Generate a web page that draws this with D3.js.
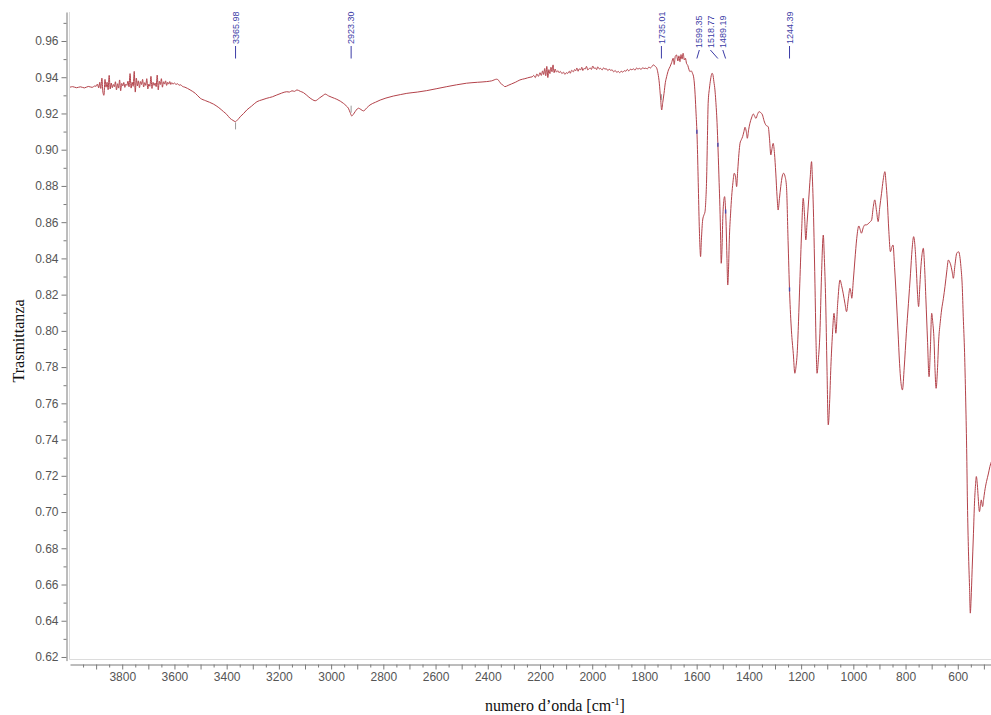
<!DOCTYPE html>
<html>
<head>
<meta charset="utf-8">
<script src="https://cdn.jsdelivr.net/npm/d3@7"></script>
<style>
  html, body { margin: 0; padding: 0; background: #fff; }
  svg { display: block; }
</style>
</head>
<body>
<svg id="chart" width="991" height="715"></svg>
<script>
// FT-IR spectrum: [wavenumber (cm^-1), transmittance]
const spectrum = [
  [4000,0.9345],[3990,0.9348],[3975,0.9342],[3960,0.9347],[3945,0.9341],[3930,0.9349],[3915,0.9344],[3905,0.9352],
  [3900,0.9350],[3895,0.9362],[3890,0.9341],[3886,0.9372],[3882,0.9338],[3878,0.9395],[3874,0.9318],[3870,0.9300],
  [3866,0.9388],[3862,0.9345],[3858,0.9372],[3854,0.9331],[3850,0.9410],[3846,0.9335],[3842,0.9368],[3838,0.9342],
  [3834,0.9360],[3830,0.9348],[3826,0.9375],[3822,0.9330],[3818,0.9364],[3814,0.9340],[3810,0.9385],[3806,0.9325],
  [3802,0.9366],[3798,0.9352],[3794,0.9371],[3790,0.9344],[3786,0.9362],[3782,0.9355],[3778,0.9378],[3774,0.9347],
  [3770,0.9420],[3766,0.9340],[3762,0.9372],[3758,0.9350],[3754,0.9432],[3750,0.9318],[3746,0.9395],[3742,0.9352],
  [3738,0.9380],[3734,0.9342],[3730,0.9376],[3726,0.9360],[3722,0.9388],[3718,0.9346],[3714,0.9370],[3710,0.9355],
  [3706,0.9392],[3702,0.9335],[3698,0.9362],[3694,0.9350],[3690,0.9405],[3686,0.9338],[3682,0.9372],[3678,0.9355],
  [3674,0.9368],[3670,0.9348],[3666,0.9412],[3662,0.9330],[3658,0.9378],[3654,0.9360],[3650,0.9392],[3646,0.9345],
  [3642,0.9375],[3638,0.9362],[3634,0.9380],[3630,0.9355],[3626,0.9372],[3622,0.9362],[3618,0.9376],[3614,0.9360],
  [3610,0.9370],[3606,0.9362],[3600,0.9368],[3594,0.9360],[3588,0.9364],[3582,0.9356],[3576,0.9358],[3570,0.9350],
  [3560,0.9345],[3540,0.9330],[3520,0.9311],[3501,0.9284],[3480,0.9270],[3451,0.9252],[3430,0.9232],[3412,0.9210],
  [3400,0.9195],[3387,0.9173],[3376,0.9162],[3367,0.9155],[3358,0.9165],[3348,0.9182],[3335,0.9200],[3323,0.9219],
  [3305,0.9240],[3284,0.9265],[3265,0.9275],[3246,0.9284],[3225,0.9292],[3208,0.9302],[3190,0.9312],[3170,0.9320],
  [3160,0.9318],[3150,0.9325],[3140,0.9322],[3131,0.9330],[3118,0.9322],[3106,0.9315],[3085,0.9290],[3070,0.9275],
  [3061,0.9270],[3045,0.9285],[3030,0.9300],[3023,0.9307],[3010,0.9297],[2997,0.9289],[2978,0.9278],[2965,0.9268],
  [2953,0.9256],[2942,0.9242],[2934,0.9229],[2927,0.9205],[2921,0.9186],[2915,0.9195],[2908,0.9210],[2900,0.9225],
  [2895,0.9229],[2886,0.9222],[2876,0.9214],[2864,0.9230],[2851,0.9247],[2830,0.9262],[2812,0.9274],[2790,0.9285],
  [2762,0.9296],[2735,0.9304],[2710,0.9311],[2670,0.9318],[2634,0.9326],[2595,0.9337],[2557,0.9348],[2520,0.9358],
  [2481,0.9367],[2440,0.9372],[2404,0.9376],[2385,0.9380],[2366,0.9389],[2358,0.9382],[2353,0.9370],[2343,0.9358],
  [2334,0.9348],[2322,0.9355],[2309,0.9363],[2293,0.9373],[2277,0.9385],[2258,0.9392],[2238,0.9400],
  [2230,0.9402],[2224,0.9410],[2218,0.9398],[2212,0.9418],[2206,0.9405],[2200,0.9425],[2195,0.9410],[2190,0.9435],
  [2186,0.9415],[2182,0.9448],[2178,0.9408],[2174,0.9460],[2170,0.9398],[2166,0.9442],[2162,0.9420],[2158,0.9455],
  [2154,0.9430],[2150,0.9468],[2146,0.9425],[2142,0.9445],[2137,0.9428],[2132,0.9436],[2127,0.9425],[2122,0.9432],
  [2116,0.9420],[2110,0.9428],[2105,0.9416],[2099,0.9425],[2094,0.9421],[2088,0.9433],[2084,0.9422],[2079,0.9438],
  [2072,0.9430],[2068,0.9442],[2063,0.9436],[2059,0.9451],[2054,0.9433],[2050,0.9446],[2044,0.9441],[2040,0.9455],
  [2036,0.9437],[2031,0.9449],[2027,0.9445],[2022,0.9460],[2017,0.9440],[2012,0.9447],[2008,0.9452],[2003,0.9443],
  [1998,0.9462],[1993,0.9448],[1989,0.9453],[1983,0.9442],[1979,0.9457],[1973,0.9446],[1968,0.9449],[1962,0.9440],
  [1957,0.9451],[1951,0.9445],[1946,0.9447],[1940,0.9437],[1935,0.9444],[1929,0.9438],[1924,0.9441],[1918,0.9430],
  [1912,0.9437],[1906,0.9427],[1900,0.9432],[1895,0.9425],[1889,0.9433],[1883,0.9428],[1877,0.9436],[1871,0.9433],
  [1866,0.9443],[1860,0.9435],[1854,0.9444],[1848,0.9441],[1842,0.9446],[1836,0.9439],[1830,0.9451],[1825,0.9445],
  [1819,0.9449],[1813,0.9443],[1807,0.9452],[1801,0.9448],[1795,0.9450],[1789,0.9446],[1783,0.9456],[1777,0.9451],
  [1772,0.9458],[1766,0.9468],[1760,0.9462],[1753,0.9450],
  [1748,0.9420],[1743,0.9367],[1738,0.9280],[1734,0.9219],[1730,0.9260],[1725,0.9311],[1720,0.9370],[1715,0.9403],
  [1708,0.9440],[1702,0.9458],[1696,0.9480],[1690,0.9505],[1686,0.9470],[1682,0.9515],[1677,0.9523],[1672,0.9490],
  [1668,0.9518],[1664,0.9486],[1660,0.9525],[1656,0.9500],[1652,0.9532],[1647,0.9495],[1643,0.9505],[1639,0.9477],
  [1634,0.9465],[1630,0.9445],[1626,0.9431],[1621,0.9435],[1616,0.9422],[1611,0.9395],[1607,0.9330],[1603,0.9220],
  [1598,0.9054],[1594,0.8820],[1590,0.8575],[1587,0.8450],[1585,0.8410],[1582,0.8500],[1577,0.8612],[1572,0.8640],
  [1568,0.8658],[1565,0.8720],[1562,0.8833],[1559,0.9050],[1556,0.9256],[1551,0.9340],[1547,0.9385],[1544,0.9410],
  [1541,0.9422],[1538,0.9415],[1534,0.9375],[1530,0.9330],[1527,0.9274],[1522,0.9150],[1518,0.8998],[1514,0.8820],
  [1511,0.8686],[1508,0.8500],[1506,0.8373],[1503,0.8450],[1500,0.8620],[1496,0.8720],[1493,0.8741],[1490,0.8690],
  [1487,0.8575],[1484,0.8400],[1481,0.8253],[1478,0.8340],[1475,0.8502],[1470,0.8650],[1466,0.8741],[1461,0.8820],
  [1456,0.8870],[1451,0.8850],[1447,0.8796],[1443,0.8880],[1438,0.8980],[1434,0.9035],[1429,0.9055],[1424,0.9072],
  [1419,0.9100],[1415,0.9124],[1410,0.9100],[1406,0.9063],[1401,0.9110],[1396,0.9146],[1390,0.9175],[1383,0.9197],
  [1378,0.9185],[1373,0.9173],[1367,0.9195],[1361,0.9210],[1355,0.9205],[1348,0.9192],[1342,0.9160],[1335,0.9136],
  [1330,0.9130],[1326,0.9127],[1321,0.9060],[1316,0.8971],[1311,0.9010],[1307,0.9035],[1302,0.8980],[1297,0.8871],
  [1292,0.8740],[1288,0.8667],[1283,0.8730],[1278,0.8796],[1272,0.8855],[1267,0.8870],[1262,0.8855],[1256,0.8796],
  [1250,0.8500],[1244,0.8210],[1237,0.8000],[1230,0.7876],[1224,0.7766],[1219,0.7810],[1215,0.7876],[1210,0.8050],
  [1205,0.8263],[1198,0.8550],[1192,0.8732],[1187,0.8640],[1182,0.8502],[1177,0.8600],[1171,0.8723],[1165,0.8850],
  [1160,0.8934],[1157,0.8850],[1154,0.8723],[1147,0.8263],[1143,0.7950],[1139,0.7766],[1134,0.7840],[1128,0.7987],
  [1122,0.8300],[1115,0.8529],[1111,0.8400],[1106,0.8171],[1101,0.7800],[1096,0.7481],[1091,0.7600],[1086,0.7803],
  [1080,0.7980],[1074,0.8097],[1070,0.8040],[1067,0.7987],[1060,0.8150],[1051,0.8281],[1045,0.8250],[1039,0.8208],
  [1032,0.8150],[1026,0.8106],[1019,0.8180],[1013,0.8235],[1009,0.8210],[1006,0.8180],[1000,0.8280],[994,0.8391],
  [987,0.8510],[979,0.8579],[974,0.8560],[969,0.8539],[962,0.8570],[956,0.8585],[950,0.8585],[944,0.8590],
  [937,0.8600],[930,0.8612],[924,0.8680],[918,0.8723],[911,0.8660],[905,0.8603],[899,0.8680],[892,0.8759],
  [886,0.8830],[879,0.8879],[875,0.8820],[870,0.8723],[864,0.8550],[858,0.8437],[853,0.8460],[848,0.8474],
  [842,0.8350],[835,0.8171],[829,0.8000],[823,0.7821],[818,0.7720],[812,0.7674],[805,0.7800],[797,0.7987],
  [789,0.8150],[781,0.8318],[775,0.8450],[769,0.8520],[763,0.8450],[758,0.8318],[754,0.8200],[750,0.8134],
  [746,0.8230],[742,0.8336],[737,0.8420],[732,0.8456],[727,0.8350],[722,0.8171],[716,0.7950],[710,0.7747],
  [705,0.7900],[700,0.8097],[696,0.8050],[691,0.7950],[687,0.7780],[683,0.7683],[678,0.7780],[673,0.7950],
  [667,0.8050],[662,0.8115],[655,0.8180],[649,0.8244],[642,0.8330],[636,0.8391],[631,0.8380],[627,0.8364],
  [622,0.8330],[617,0.8290],[611,0.8360],[604,0.8428],[597,0.8437],[592,0.8410],[588,0.8355],[583,0.8250],
  [579,0.8078],[574,0.7880],[570,0.7640],[566,0.7350],[563,0.7050],[559,0.6780],[555,0.6588],[552,0.6442],
  [549,0.6520],[545,0.6681],[540,0.6880],[536,0.7049],[532,0.7150],[529,0.7196],[525,0.7150],[522,0.7085],
  [517,0.7002],[513,0.7040],[510,0.7067],[505,0.7030],[501,0.7070],[497,0.7113],[490,0.7168],[483,0.7210],
  [477,0.7251],[465,0.7300],[450,0.7350]
];

// Annotated band positions (cm^-1)
const peakLabels = ["3365.98", "2923.30", "1735.01", "1599.35", "1518.77", "1489.19", "1244.39"];

// Axis ticks
const xTickLabels = [3800, 3600, 3400, 3200, 3000, 2800, 2600, 2400, 2200, 2000, 1800, 1600, 1400, 1200, 1000, 800, 600];
const yTickLabels = [0.62, 0.64, 0.66, 0.68, 0.70, 0.72, 0.74, 0.76, 0.78, 0.80, 0.82, 0.84, 0.86, 0.88, 0.90, 0.92, 0.94, 0.96];

const xTitle = "numero d\u2019onda [cm";
const xTitleSup = "-1";
const yTitle = "Trasmittanza";

// ---- drawing ----
const svg = d3.select("#chart");
const tickFont = "'Liberation Sans', Arial, sans-serif";
const titleFont = "'Liberation Serif', 'Times New Roman', serif";

const x = d3.scaleLinear().domain([4000, 400]).range([70, 1010]);
const y = d3.scaleLinear().domain([0.618, 0.976]).range([660.6, 12]);

// light plot frame
svg.append("line").attr("x1", 69.5).attr("x2", 69.5).attr("y1", 12).attr("y2", 659.5)
  .attr("stroke", "#dcdcdc").attr("stroke-width", 1);
svg.append("line").attr("x1", 69.5).attr("x2", 991).attr("y1", 659.5).attr("y2", 659.5)
  .attr("stroke", "#dcdcdc").attr("stroke-width", 1);

// y axis: major (labelled) ticks every 0.02, minor every 0.01
const yMinor = [];
for (let i = 0; i < yTickLabels.length; i++) yMinor.push(+(yTickLabels[i] + 0.01).toFixed(2));

svg.append("g").attr("transform", "translate(66.5,0)")
  .call(d3.axisLeft(y).tickValues(yTickLabels).tickFormat(d3.format(".2f"))
    .tickSize(5).tickSizeOuter(0).tickPadding(3));
svg.append("g").attr("transform", "translate(66.5,0)")
  .call(d3.axisLeft(y).tickValues(yMinor).tickFormat("").tickSize(3).tickSizeOuter(0))
  .select(".domain").remove();

// x axis: labels every 200, long ticks every 100, short ticks every 50
const xMajor = [], xMinor = [];
for (let v = 3900; v >= 500; v -= 100) xMajor.push(v);
for (let v = 3950; v >= 450; v -= 100) xMinor.push(v);
const labelled = new Set(xTickLabels);

svg.append("g").attr("transform", "translate(0,664.5)")
  .call(d3.axisBottom(x).tickValues(xMajor).tickFormat(d => labelled.has(d) ? d : "")
    .tickSize(5).tickSizeOuter(0).tickPadding(3));
svg.append("g").attr("transform", "translate(0,664.5)")
  .call(d3.axisBottom(x).tickValues(xMinor).tickFormat("").tickSize(3).tickSizeOuter(0))
  .select(".domain").remove();

svg.selectAll(".domain").attr("stroke", "#7a7a7a");
svg.selectAll(".tick line").attr("stroke", "#7a7a7a");
svg.selectAll(".tick text").attr("fill", "#555").style("font-family", tickFont).style("font-size", "12px");

// spectrum trace
const line = d3.line()
  .x(d => x(d[0]))
  .y(d => y(d[1]))
  .curve(d3.curveMonotoneX);

svg.append("path")
  .datum(spectrum)
  .attr("fill", "none")
  .attr("stroke", "#b3424a")
  .attr("stroke-width", 1)
  .attr("stroke-linejoin", "round")
  .attr("d", line);

// transmittance at a given wavenumber along the trace
function valueAt(wn) {
  for (let i = 0; i < spectrum.length - 1; i++) {
    const a = spectrum[i], b = spectrum[i + 1];
    if (wn <= a[0] && wn >= b[0]) {
      const t = (a[0] - wn) / (a[0] - b[0]);
      return a[1] + t * (b[1] - a[1]);
    }
  }
  return spectrum[spectrum.length - 1][1];
}

// band annotations
const labelColor = "#3c3ca6";
const nudge = { "1599.35": 2.5, "1518.77": -7.5, "1489.19": -2.8 };
const annot = svg.append("g");

peakLabels.forEach(lbl => {
  const wn = +lbl;
  const px = x(wn);
  const py = y(valueAt(wn));
  const shift = nudge[lbl] || 0;
  const lx = px + shift;

  if (shift === 0) {
    annot.append("line").attr("x1", px).attr("x2", px).attr("y1", 46).attr("y2", 58.5)
      .attr("stroke", labelColor).attr("stroke-width", 1);
    annot.append("text").attr("transform", `translate(${lx},44) rotate(-90)`)
      .attr("dy", "0.35em").text(lbl);
  } else {
    annot.append("line").attr("x1", px).attr("x2", lx).attr("y1", 58.5).attr("y2", 50)
      .attr("stroke", labelColor).attr("stroke-width", 1);
    annot.append("text").attr("transform", `translate(${lx},48) rotate(-90)`)
      .attr("dy", "0.35em").text(lbl);
  }

  // marker on the trace
  if (wn > 1700) {
    const off = wn > 3000 ? [1, 8] : (wn > 2000 ? [-9, -2] : [-13, -7]);
    annot.append("line").attr("x1", px).attr("x2", px)
      .attr("y1", py + off[0]).attr("y2", py + off[1])
      .attr("stroke", "#9a9a9a").attr("stroke-width", 1);
  } else {
    annot.append("line").attr("x1", px).attr("x2", px)
      .attr("y1", py - 2).attr("y2", py + 2)
      .attr("stroke", "#4a4ab0").attr("stroke-width", 1.4);
  }
});

annot.selectAll("text")
  .attr("fill", labelColor)
  .style("font-family", tickFont)
  .style("font-size", "9px");

// axis titles
svg.append("text")
  .attr("transform", "translate(24,341) rotate(-90)")
  .attr("text-anchor", "middle")
  .style("font-family", titleFont)
  .style("font-size", "16px")
  .attr("fill", "#111")
  .text(yTitle);

const xt = svg.append("text")
  .attr("x", 555).attr("y", 711)
  .attr("text-anchor", "middle")
  .style("font-family", titleFont)
  .style("font-size", "16px")
  .attr("fill", "#111");
xt.append("tspan").text(xTitle);
xt.append("tspan").attr("dy", -6).style("font-size", "10px").text(xTitleSup);
xt.append("tspan").attr("dy", 6).text("]");
</script>
</body>
</html>
